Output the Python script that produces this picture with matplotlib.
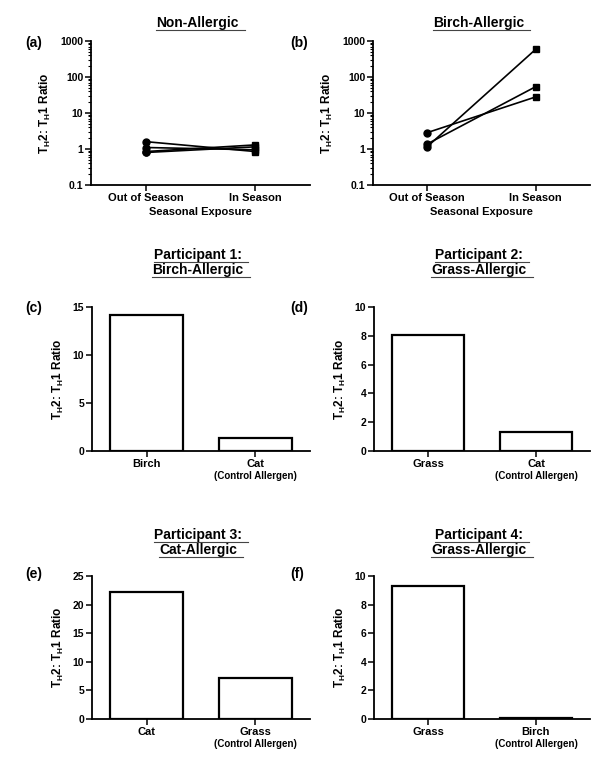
import matplotlib
matplotlib.use('Agg')
import matplotlib.pyplot as plt
from matplotlib.lines import Line2D

plt.rcParams['font.family'] = ['Liberation Sans', 'DejaVu Sans']
plt.rcParams['font.weight'] = 'bold'
plt.rcParams['mathtext.fontset'] = 'custom'
plt.rcParams['mathtext.rm'] = 'Liberation Sans:bold'
plt.rcParams['mathtext.bf'] = 'Liberation Sans:bold'
plt.rcParams['mathtext.default'] = 'bf'

# seasonal panels (a), (b)
season_labels = ['Out of Season', 'In Season']
nonallergic_out = [1.6, 1.1, 0.85, 0.8]
nonallergic_in = [0.85, 0.95, 1.3, 1.15]
birch_out = [2.85, 1.38, 1.16]
birch_in = [28, 54, 590]

# participant panels (c)-(f)
p1_labels = ['Birch', 'Cat']
p1_values = [14.2, 1.35]
p2_labels = ['Grass', 'Cat']
p2_values = [8.05, 1.35]
p3_labels = ['Cat', 'Grass']
p3_values = [22.2, 7.1]
p4_labels = ['Grass', 'Birch']
p4_values = [9.3, 0.08]

ylab = r'T$_{H}$2: T$_{H}$1 Ratio'

fig = plt.figure(figsize=(6, 7.7), dpi=100)
W, H = 600., 770.


def add_axes(left, top, right, bottom):
    return fig.add_axes([left / W, 1 - bottom / H, (right - left) / W, (bottom - top) / H])


def style(ax):
    for s in ['top', 'right']:
        ax.spines[s].set_visible(False)
    for s in ['left', 'bottom']:
        ax.spines[s].set_linewidth(1.3)
    ax.tick_params(axis='both', which='major', length=4, width=1.1, labelsize=7.5, pad=1.5)
    ax.set_xlim(-0.5, 1.5)
    ax.set_ylabel(ylab, fontsize=8.5, fontweight='bold', labelpad=5)


titles = []


def title(ax, lines, baselines):
    bb = ax.get_position()
    xc = (bb.x0 + bb.x1) / 2 - 3 / W
    for txt, yb in zip(lines, baselines):
        t = fig.text(xc, 1 - yb / H, txt, ha='center', va='baseline', fontsize=10, fontweight='bold')
        titles.append((t, yb))


def season_panel(ax, out_vals, in_vals):
    style(ax)
    ax.set_yscale('log')
    ax.set_ylim(0.1, 1000)
    ax.set_yticks([0.1, 1, 10, 100, 1000])
    ax.set_yticklabels(['0.1', '1', '10', '100', '1000'])
    ax.tick_params(axis='y', which='minor', length=2, width=0.8)
    for o, i in zip(out_vals, in_vals):
        ax.plot([0, 1], [o, i], color='black', lw=1.2, zorder=2)
    ax.plot([0] * len(out_vals), out_vals, 'o', color='black', ms=5, zorder=3, clip_on=False)
    ax.plot([1] * len(in_vals), in_vals, 's', color='black', ms=5, zorder=3, clip_on=False)
    ax.set_xticks([0, 1])
    ax.set_xticklabels(season_labels, fontsize=8)
    ax.set_xlabel('Seasonal Exposure', fontsize=8, fontweight='bold', labelpad=3)


def bar_panel(ax, labels, values, ymax, step):
    style(ax)
    ax.bar([0, 1], values, width=0.67, color='white', edgecolor='black', linewidth=1.6, zorder=2)
    ax.set_ylim(0, ymax)
    ax.set_yticks(range(0, ymax + 1, step))
    ax.set_xticks([0, 1])
    ax.set_xticklabels(labels, fontsize=8)
    ax.text(1, -0.175, '(Control Allergen)', transform=ax.get_xaxis_transform(),
            ha='center', va='center', fontsize=7, fontweight='bold')


# (a) Non-Allergic
ax_a = add_axes(91, 41, 310, 185)
season_panel(ax_a, nonallergic_out, nonallergic_in)
title(ax_a, ['Non-Allergic'], [27])

# (b) Birch-Allergic
ax_b = add_axes(373, 41, 590, 185)
season_panel(ax_b, birch_out, birch_in)
title(ax_b, ['Birch-Allergic'], [27])

# (c) Participant 1
ax_c = add_axes(92, 307, 310, 451)
bar_panel(ax_c, p1_labels, p1_values, 15, 5)
title(ax_c, ['Participant 1:', 'Birch-Allergic'], [259, 274])

# (d) Participant 2
ax_d = add_axes(374, 307, 590, 451)
bar_panel(ax_d, p2_labels, p2_values, 10, 2)
title(ax_d, ['Participant 2:', 'Grass-Allergic'], [259, 274])

# (e) Participant 3
ax_e = add_axes(92, 576, 310, 719)
bar_panel(ax_e, p3_labels, p3_values, 25, 5)
title(ax_e, ['Participant 3:', 'Cat-Allergic'], [539, 554])

# (f) Participant 4
ax_f = add_axes(374, 576, 590, 719)
bar_panel(ax_f, p4_labels, p4_values, 10, 2)
title(ax_f, ['Participant 4:', 'Grass-Allergic'], [539, 554])

# panel letters
for lab, x, y in [('(a)', 25, 43), ('(b)', 290, 43), ('(c)', 25, 308), ('(d)', 290, 308),
                  ('(e)', 25, 574), ('(f)', 290, 574)]:
    fig.text(x / W, 1 - y / H, lab, ha='left', va='center', fontsize=10, fontweight='bold')

# underline the titles
fig.canvas.draw()
r = fig.canvas.get_renderer()
for t, yb in titles:
    bb = t.get_window_extent(r)
    yl = 1 - (yb + 2.5) / H
    fig.add_artist(Line2D([bb.x0 / W, (bb.x1 + 6) / W], [yl, yl], color='#444444', lw=0.8))

fig.savefig('out.png', dpi=100)
